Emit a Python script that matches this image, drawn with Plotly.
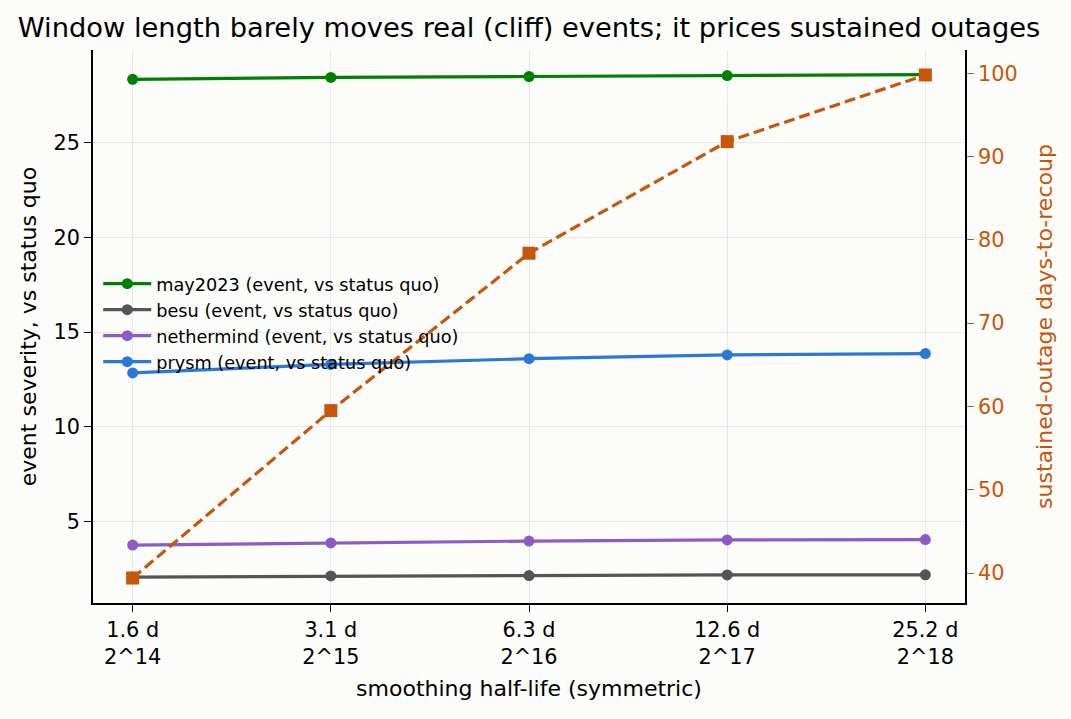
import plotly.graph_objects as go

# log2 of the smoothing window, and its labels
window_exp = [14, 15, 16, 17, 18]
half_life = ["1.6 d", "3.1 d", "6.3 d", "12.6 d", "25.2 d"]
tick_text = [f"{h}<br>2^{e}" for h, e in zip(half_life, window_exp)]

may2023 = [28.35, 28.45, 28.5, 28.55, 28.6]
besu = [2.07, 2.13, 2.15, 2.18, 2.19]
nethermind = [3.76, 3.87, 3.97, 4.03, 4.05]
prysm = [12.85, 13.3, 13.6, 13.8, 13.87]
days_to_recoup = [39.4, 59.5, 78.4, 91.8, 99.8]

FONT = "DejaVu Sans"
ORANGE = "#c8560a"
BG = "#fcfcfa"

series = [
    ("may2023 (event, vs status quo)", may2023, "#008000"),
    ("besu (event, vs status quo)", besu, "#555555"),
    ("nethermind (event, vs status quo)", nethermind, "#8c5cc6"),
    ("prysm (event, vs status quo)", prysm, "#2a79d8"),
]

fig = go.Figure()
for name, vals, col in series:
    fig.add_trace(go.Scatter(
        x=window_exp, y=vals, name=name, mode="lines+markers",
        line=dict(color=col, width=3.2), marker=dict(color=col, size=11),
    ))

fig.add_trace(go.Scatter(
    x=window_exp, y=days_to_recoup, name="sustained-outage days-to-recoup",
    mode="lines+markers", yaxis="y2", showlegend=False,
    line=dict(color=ORANGE, width=3.2, dash="11px,5px"),
    marker=dict(color=ORANGE, size=13, symbol="square"),
))

# the page adds an 8px body margin, so the figure is 16px smaller than the window
fig.update_layout(
    width=1063, height=711,
    paper_bgcolor=BG, plot_bgcolor=BG,
    margin=dict(l=85, r=106, t=42, b=116),
    font=dict(family=FONT, size=20.8, color="black"),
    title=dict(
        text="Window length barely moves real (cliff) events; it prices sustained outages",
        xref="paper", x=0.5, xanchor="center", y=0.972, yanchor="middle",
        font=dict(size=27.3),
    ),
    xaxis=dict(
        range=[13.8, 18.2], tickvals=window_exp, ticktext=tick_text,
        showline=True, linecolor="black", linewidth=1.6,
        ticks="outside", ticklen=7, tickcolor="black",
        showgrid=True, gridcolor="#e8e8e8", zeroline=False,
        title=dict(text="smoothing half-life (symmetric)", font=dict(size=22), standoff=13),
    ),
    yaxis=dict(
        range=[0.7, 29.9], tickvals=[5, 10, 15, 20, 25],
        showline=True, linecolor="black", linewidth=1.6,
        ticks="outside", ticklen=7, tickcolor="black",
        showgrid=True, gridcolor="#e8e8e8", zeroline=False,
        title=dict(text="event severity, vs status quo", font=dict(size=22), standoff=11),
    ),
    yaxis2=dict(
        overlaying="y", side="right", range=[36.4, 102.8],
        tickvals=[40, 50, 60, 70, 80, 90, 100],
        showline=True, linecolor="black", linewidth=1.6,
        ticks="outside", ticklen=7, tickcolor=ORANGE,
        tickfont=dict(color=ORANGE), showgrid=False, zeroline=False,
        title=dict(text="sustained-outage days-to-recoup", font=dict(size=22, color=ORANGE), standoff=20),
    ),
    legend=dict(
        x=0.006, y=0.61, xanchor="left", yanchor="top",
        bgcolor="rgba(0,0,0,0)", font=dict(size=17.7), itemwidth=48,
    ),
)

fig.write_html("out.html", post_script=f"document.body.style.background='{BG}';")
